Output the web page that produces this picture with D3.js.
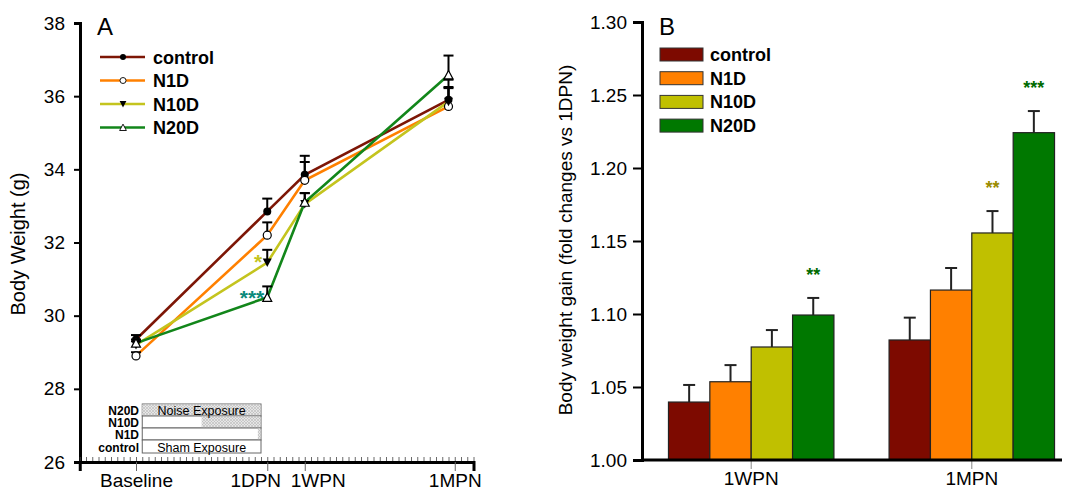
<!DOCTYPE html>
<html>
<head>
<meta charset="utf-8">
<script src="https://cdn.jsdelivr.net/npm/d3@7"></script>
<style>
  body { margin: 0; background: #fff; }
  svg { font-family: "Liberation Sans", Arial, sans-serif; }
  .axis text { font-size: 19px; fill: #000; }
</style>
</head>
<body>
<svg id="chart" width="1069" height="491"></svg>
<script>
// ---- data, panel A (body weight, g) ----
const groups = ["control", "N1D", "N10D", "N20D"];
const timeLabels = ["Baseline", "1DPN", "1WPN", "1MPN"];
const tickDays = [0, 21, 27, 51];
const pointDays = [0, 21, 27, 50];
const weightMean = {
  control: [29.35, 32.85, 33.85, 35.9],
  N1D: [28.9, 32.2, 33.7, 35.72],
  N10D: [29.2, 31.45, 33.05, 35.85],
  N20D: [29.25, 30.5, 33.1, 36.58]
};
const weightSem = {
  control: [0.12, 0.35, 0.52, 0.35],
  N1D: [0.1, 0.35, 0.5, 0.5],
  N10D: [0.1, 0.35, 0.3, 0.6],
  N20D: [0.1, 0.3, 0.25, 0.53]
};
const exposureRows = ["N20D", "N10D", "N1D", "control"];
const exposureStart = [1, 10.5, 19.5, null];

// ---- data, panel B (fold change vs 1DPN) ----
const gainTimes = ["1WPN", "1MPN"];
const gainMean = {
  control: [1.0397, 1.0822],
  N1D: [1.0536, 1.1164],
  N10D: [1.0774, 1.1555],
  N20D: [1.0993, 1.2242]
};
const gainSem = {
  control: [0.0117, 0.0153],
  N1D: [0.0114, 0.0151],
  N10D: [0.0116, 0.015],
  N20D: [0.0117, 0.0148]
};
const gainStars = [
  { time: "1WPN", group: "N20D", text: "**", color: "#006a00" },
  { time: "1MPN", group: "N10D", text: "**", color: "#9a8c00" },
  { time: "1MPN", group: "N20D", text: "***", color: "#006a00" }
];

const lineColor = { control: "#7d1606", N1D: "#ff8000", N10D: "#c4c41e", N20D: "#12861a" };
const barColor = { control: "#7d0a00", N1D: "#ff8000", N10D: "#c0c000", N20D: "#007800" };

const svg = d3.select("#chart");

// hatch pattern for exposure box
const defs = svg.append("defs");
const pat = defs.append("pattern").attr("id", "hatch")
  .attr("width", 3).attr("height", 3).attr("patternUnits", "userSpaceOnUse");
pat.append("rect").attr("width", 3).attr("height", 3).attr("fill", "#e6e6e6");
pat.append("path").attr("d", "M0,3 L3,0 M0,0 L3,3").attr("stroke", "#b8b8b8").attr("stroke-width", 0.6);

// ================= Panel A =================
const xA = d3.scaleLinear().domain([-9, 54]).range([79.75, 473.5]);
const yA = d3.scaleLinear().domain([26, 38]).range([462, 23]);

const gA = svg.append("g");

// y axis
gA.append("g").attr("class", "axis").attr("transform", "translate(80,0)")
  .call(d3.axisLeft(yA).tickValues(d3.range(26, 39, 2)).tickSize(6).tickPadding(9))
  .call(g => g.select(".domain").attr("stroke-width", 3))
  .call(g => g.selectAll(".tick line").attr("stroke-width", 2));

// x axis: minor day ticks + labelled ticks
gA.append("g").attr("transform", "translate(0,462)")
  .call(d3.axisBottom(xA).tickValues(d3.range(-9, 55, 1)).tickSize(-5).tickFormat(""))
  .call(g => g.select(".domain").remove())
  .call(g => g.selectAll(".tick line").attr("stroke", "#444").attr("stroke-width", 0.8));
const labelShift = [0, -12, 13, 0];
gA.append("g").attr("class", "axis").attr("transform", "translate(0,462)")
  .call(d3.axisBottom(xA).tickValues(tickDays).tickSize(9).tickPadding(3)
    .tickFormat((d, i) => timeLabels[i]))
  .call(g => g.select(".domain").attr("stroke-width", 3))
  .call(g => g.selectAll(".tick line").attr("stroke", "#666"))
  .call(g => g.selectAll(".tick text").attr("dx", (d, i) => labelShift[i]));

// lines
const line = d3.line().x((d, i) => xA(pointDays[i])).y(d => yA(d));
groups.forEach(gr => {
  gA.append("path").datum(weightMean[gr])
    .attr("fill", "none").attr("stroke", lineColor[gr]).attr("stroke-width", 2.6)
    .attr("d", line);
});

// error bars (upper) and markers
function marker(sel, gr, x, y) {
  if (gr === "control") {
    sel.append("circle").attr("cx", x).attr("cy", y).attr("r", 4).attr("fill", "#000");
  } else if (gr === "N1D") {
    sel.append("circle").attr("cx", x).attr("cy", y).attr("r", 4)
      .attr("fill", "#fff").attr("stroke", "#000").attr("stroke-width", 1.2);
  } else if (gr === "N10D") {
    sel.append("path").attr("d", `M${x - 4.5},${y - 4} L${x + 4.5},${y - 4} L${x},${y + 4.5} Z`)
      .attr("fill", "#000");
  } else {
    sel.append("path").attr("d", `M${x - 4.5},${y + 4} L${x + 4.5},${y + 4} L${x},${y - 4.5} Z`)
      .attr("fill", "#fff").attr("stroke", "#000").attr("stroke-width", 1.2);
  }
}
groups.forEach(gr => {
  weightMean[gr].forEach((v, i) => {
    const x = xA(pointDays[i]);
    const top = yA(v + weightSem[gr][i]);
    gA.append("line").attr("x1", x).attr("x2", x).attr("y1", yA(v)).attr("y2", top)
      .attr("stroke", "#000").attr("stroke-width", 2);
    gA.append("line").attr("x1", x - 5).attr("x2", x + 5).attr("y1", top).attr("y2", top)
      .attr("stroke", "#000").attr("stroke-width", 2);
  });
});
groups.forEach(gr => {
  weightMean[gr].forEach((v, i) => marker(gA, gr, xA(pointDays[i]), yA(v)));
});

// significance stars panel A
gA.append("text").attr("x", xA(21) - 5).attr("y", yA(weightMean.N10D[1]) + 6)
  .attr("text-anchor", "end").attr("font-size", 21).attr("font-weight", "bold")
  .attr("fill", "#c4c41e").text("*");
gA.append("text").attr("x", xA(21) - 3).attr("y", yA(weightMean.N20D[1]) + 8)
  .attr("text-anchor", "end").attr("font-size", 21).attr("font-weight", "bold")
  .attr("fill", "#0a8a7a").text("***");

// legend A
groups.forEach((gr, i) => {
  const y = 57 + i * 23.5;
  gA.append("line").attr("x1", 100).attr("x2", 145).attr("y1", y).attr("y2", y)
    .attr("stroke", lineColor[gr]).attr("stroke-width", 2.6);
  const m = gA.append("g").attr("transform", `translate(123,${y}) scale(0.75) translate(-123,${-y})`);
  marker(m, gr, 123, y);
  gA.append("text").attr("x", 153).attr("y", y + 6.5).attr("font-size", 18)
    .attr("font-weight", "bold").text(gr);
});
gA.append("text").attr("x", 97).attr("y", 35).attr("font-size", 24).text("A");

// axis title A
gA.append("text").attr("transform", "translate(25,244) rotate(-90)")
  .attr("text-anchor", "middle").attr("font-size", 20).text("Body Weight (g)");

// exposure schedule box
const rowTop = [404, 416, 428, 440];
const rowBot = [416, 428, 440, 453];
const rowBase = [415, 427, 439, 452];
exposureRows.forEach((r, i) => {
  gA.append("rect").attr("x", xA(1)).attr("y", rowTop[i])
    .attr("width", xA(20) - xA(1)).attr("height", rowBot[i] - rowTop[i])
    .attr("fill", "#fff").attr("stroke", "#666").attr("stroke-width", 1);
  if (exposureStart[i] !== null) {
    gA.append("rect").attr("x", xA(exposureStart[i])).attr("y", rowTop[i] + 0.5)
      .attr("width", xA(20) - xA(exposureStart[i]) - 0.5).attr("height", rowBot[i] - rowTop[i] - 1)
      .attr("fill", "url(#hatch)");
  }
  gA.append("text").attr("x", 139).attr("y", rowBase[i])
    .attr("text-anchor", "end").attr("font-size", 12).attr("font-weight", "bold").text(r);
});
gA.append("text").attr("x", (xA(1) + xA(20)) / 2).attr("y", 414.5)
  .attr("text-anchor", "middle").attr("font-size", 12.5).text("Noise Exposure");
gA.append("text").attr("x", (xA(1) + xA(20)) / 2).attr("y", 451.5)
  .attr("text-anchor", "middle").attr("font-size", 12.5).text("Sham Exposure");

// ================= Panel B =================
const x0 = d3.scaleBand().domain(gainTimes).range([642, 1081]).paddingInner(0.25).paddingOuter(0.12);
const x1 = d3.scaleBand().domain(groups).range([0, x0.bandwidth()]);
const yB = d3.scaleLinear().domain([1.0, 1.3]).range([460, 22]);

const gB = svg.append("g");

gB.append("g").attr("class", "axis").attr("transform", "translate(642,0)")
  .call(d3.axisLeft(yB).tickValues(d3.range(0, 7).map(i => 1 + i * 0.05))
    .tickFormat(d3.format(".2f")).tickSize(9).tickPadding(6))
  .call(g => g.select(".domain").attr("stroke-width", 3))
  .call(g => g.selectAll(".tick line").attr("stroke-width", 2));

// bars
gainTimes.forEach((t, ti) => {
  groups.forEach(gr => {
    const v = gainMean[gr][ti];
    const x = x0(t) + x1(gr);
    const top = yB(v + gainSem[gr][ti]);
    const cx = x + x1.bandwidth() / 2;
    gB.append("line").attr("x1", cx).attr("x2", cx).attr("y1", yB(v)).attr("y2", top)
      .attr("stroke", "#222").attr("stroke-width", 2);
    gB.append("line").attr("x1", cx - 6).attr("x2", cx + 6).attr("y1", top).attr("y2", top)
      .attr("stroke", "#222").attr("stroke-width", 2);
    gB.append("rect").attr("x", x).attr("y", yB(v))
      .attr("width", x1.bandwidth()).attr("height", yB(1) - yB(v))
      .attr("fill", barColor[gr]).attr("stroke", "#222").attr("stroke-width", 1.2);
  });
});

gB.append("g").attr("class", "axis").attr("transform", "translate(0,460)")
  .call(d3.axisBottom(x0).tickSize(9).tickPadding(3))
  .call(g => g.select(".domain").remove())
  .call(g => g.selectAll(".tick line").attr("stroke", "#888"));
gB.append("line").attr("x1", 641).attr("x2", 1062).attr("y1", 460).attr("y2", 460)
  .attr("stroke", "#000").attr("stroke-width", 3);

// stars B
gainStars.forEach(s => {
  const ti = gainTimes.indexOf(s.time);
  const cx = x0(s.time) + x1(s.group) + x1.bandwidth() / 2;
  const y = yB(gainMean[s.group][ti] + gainSem[s.group][ti]) - 17;
  gB.append("text").attr("x", cx).attr("y", y).attr("text-anchor", "middle")
    .attr("font-size", 18).attr("font-weight", "bold").attr("fill", s.color).text(s.text);
});

// legend B
groups.forEach((gr, i) => {
  const y = 48 + i * 23.7;
  gB.append("rect").attr("x", 660).attr("y", y).attr("width", 43).attr("height", 13)
    .attr("fill", barColor[gr]).attr("stroke", "#333").attr("stroke-width", 1);
  gB.append("text").attr("x", 710).attr("y", y + 13).attr("font-size", 18)
    .attr("font-weight", "bold").text(gr);
});
gB.append("text").attr("x", 659).attr("y", 35).attr("font-size", 24).text("B");

gB.append("text").attr("transform", "translate(572,240) rotate(-90)")
  .attr("text-anchor", "middle").attr("font-size", 19)
  .text("Body weight gain (fold changes vs 1DPN)");
</script>
</body>
</html>
